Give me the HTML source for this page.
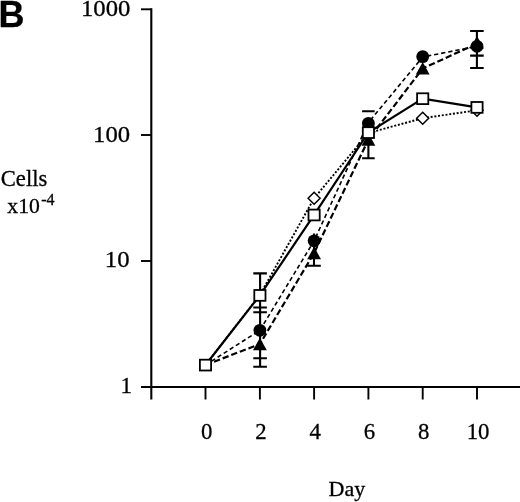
<!DOCTYPE html>
<html><head><meta charset="utf-8"><title>B</title>
<style>
html,body{margin:0;padding:0;background:#fff;}
body{width:520px;height:502px;overflow:hidden;}
svg{display:block;}
text{font-family:"Liberation Serif",serif;fill:#000;stroke:#000;stroke-width:0.3px;}
.b{font-family:"Liberation Sans",sans-serif;font-weight:bold;}
</style></head><body>
<svg width="520" height="502" viewBox="0 0 520 502">
<rect width="520" height="502" fill="#fff"/>
<g stroke="#000" stroke-width="2.1" fill="none" stroke-linecap="butt">
<path d="M151.3 8.3V399.5"/>
<path d="M141 387H520"/>
<path d="M141 9.3H151.5" stroke-width="1.9"/>
<path d="M141 135H151.5" stroke-width="1.9"/>
<path d="M141 261H151.5" stroke-width="1.9"/>
<path d="M205.5 387V399.5" stroke-width="1.9"/>
<path d="M259.9 387V399.5" stroke-width="1.9"/>
<path d="M314.1 387V399.5" stroke-width="1.9"/>
<path d="M368.4 387V399.5" stroke-width="1.9"/>
<path d="M422.7 387V399.5" stroke-width="1.9"/>
<path d="M477.0 387V399.5" stroke-width="1.9"/>
</g>
<polyline points="205.5,365 259.9,295.0 314.1,198.3 368.4,133.0 422.7,118.2 477.0,110.3" fill="none" stroke="#000" stroke-width="1.9" stroke-dasharray="2 1.75"/>
<polyline points="205.5,365 259.9,330.3 314.1,240.8 368.4,122.6 422.7,57.0 477.0,46.3" fill="none" stroke="#000" stroke-width="1.6" stroke-dasharray="4.3 2.9"/>
<polyline points="205.5,365 259.9,344.0 314.1,253.0 368.4,139.5 422.7,68.5 477.0,43.6" fill="none" stroke="#000" stroke-width="2.2" stroke-dasharray="6.3 2.9"/>
<polyline points="205.5,365 259.9,295.3 314.1,214.9 368.4,132.5 422.7,98.6 477.0,107.3" fill="none" stroke="#000" stroke-width="2.2"/>
<g stroke="#000" stroke-width="2.1" fill="none">
<path d="M260.1 273.4V366.7M253.3 273.4H266.90000000000003M253.3 307.5H266.90000000000003M253.3 312.2H266.90000000000003M253.3 358.2H266.90000000000003M253.3 366.7H266.90000000000003"/>
<path d="M314 233.5V265.8M307.2 265.8H320.8"/>
<path d="M368.4 118V158.2M362.09999999999997 111.2H374.7M362.09999999999997 158.2H374.7"/>
<path d="M476.9 31V68M470.09999999999997 31H483.7M470.09999999999997 55.6H483.7M470.09999999999997 68H483.7"/>
</g>
<g stroke="#000" stroke-width="1.5" fill="#fff">
<path d="M314.1 192.3L320.1 198.3L314.1 204.3L308.1 198.3Z"/>
<path d="M422.7 112.2L428.7 118.2L422.7 124.2L416.7 118.2Z"/>
<path d="M477.0 104.3L483.0 110.3L477.0 116.3L471.0 110.3Z"/>
</g>
<g fill="#000" stroke="none">
<path d="M259.9 337.7L266.79999999999995 350.2H252.99999999999997Z"/>
<path d="M314.1 246.8L321.0 259.3H307.20000000000005Z"/>
<path d="M368.4 133.3L375.29999999999995 145.8H361.5Z"/>
<path d="M422.7 62.099999999999994L429.59999999999997 74.6H415.8Z"/>
<path d="M477.0 35.9L483.9 48.4H470.1Z"/>
<circle cx="259.9" cy="330.3" r="6.4"/>
<circle cx="314.1" cy="240.8" r="6.4"/>
<circle cx="368.4" cy="123.4" r="6.4"/>
<circle cx="422.7" cy="56.6" r="6.4"/>
<circle cx="477.0" cy="46.3" r="6.4"/>
</g>
<g stroke="#000" stroke-width="1.8" fill="#fff">
<rect x="199.9" y="359.7" width="11.2" height="10.8"/>
<rect x="254.29999999999998" y="290.0" width="11.2" height="10.8"/>
<rect x="308.5" y="209.6" width="11.2" height="10.8"/>
<rect x="362.79999999999995" y="127.2" width="11.2" height="10.8"/>
<rect x="417.09999999999997" y="93.3" width="11.2" height="10.8"/>
<rect x="471.4" y="102.0" width="11.2" height="10.8"/>
</g>
<text transform="translate(130.3 16.4) scale(1.05 1)" text-anchor="end" font-size="23.5">1000</text>
<text transform="translate(130.1 142.2) scale(1.05 1)" text-anchor="end" font-size="23.5">100</text>
<text transform="translate(129.5 267.2) scale(1.05 1)" text-anchor="end" font-size="23.5">10</text>
<text transform="translate(132.0 393.1) scale(1.0 1)" text-anchor="end" font-size="23">1</text>
<text transform="translate(206.6 439.1) scale(0.97 1)" text-anchor="middle" font-size="23.5">0</text>
<text transform="translate(261.0 439.1) scale(0.97 1)" text-anchor="middle" font-size="23.5">2</text>
<text transform="translate(315.20000000000005 439.1) scale(0.97 1)" text-anchor="middle" font-size="23.5">4</text>
<text transform="translate(369.5 439.1) scale(0.97 1)" text-anchor="middle" font-size="23.5">6</text>
<text transform="translate(423.8 439.1) scale(0.97 1)" text-anchor="middle" font-size="23.5">8</text>
<text transform="translate(478.1 439.1) scale(0.97 1)" text-anchor="middle" font-size="23.5">10</text>
<text x="328.5" y="495.8" font-size="22">Day</text>
<text x="0.8" y="186.2" font-size="22.6">Cells</text>
<text x="7.3" y="213.2" font-size="21.7">x10<tspan dx="1.3" dy="-8.5" font-size="16">-4</tspan></text>
<text class="b" x="-1.4" y="27.3" font-size="36">B</text>
</svg></body></html>
